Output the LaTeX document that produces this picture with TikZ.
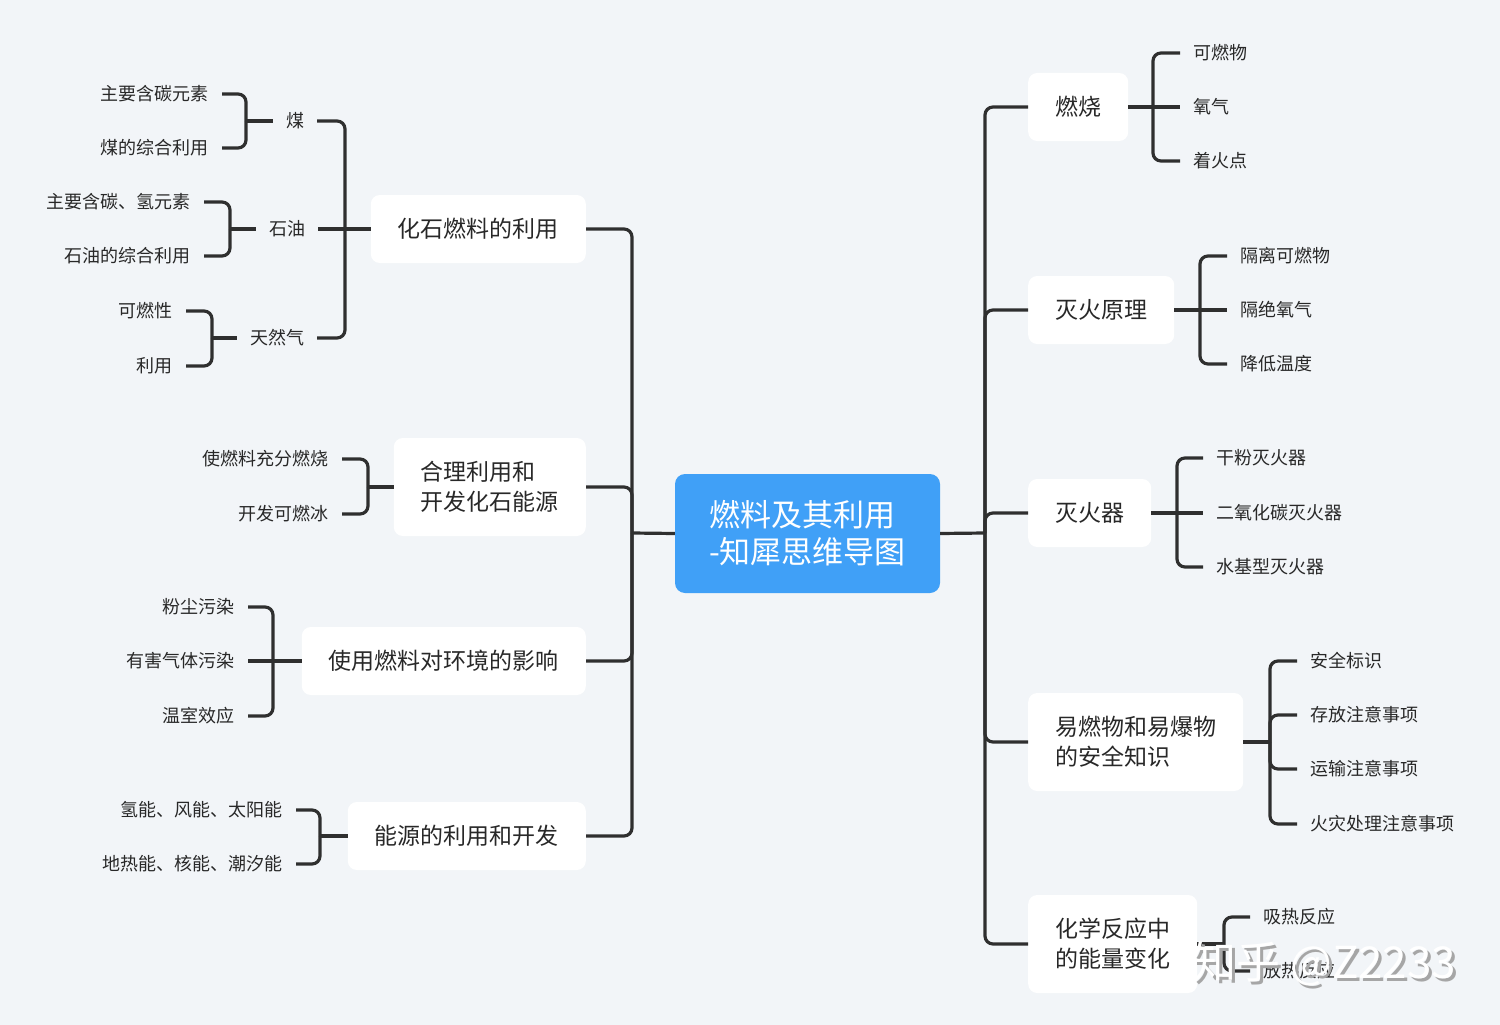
\documentclass[tikz,border=0pt]{standalone}
\usepackage{fontspec}
\setmainfont{Noto Sans CJK SC}
\definecolor{bg}{RGB}{242,245,248}
\definecolor{ln}{RGB}{47,47,47}
\definecolor{txt}{RGB}{40,40,40}
\definecolor{cblue}{RGB}{64,160,247}
\tikzset{
  mainbox/.style={fill=white, rounded corners=9pt, font=\fontsize{23}{30}\selectfont, text=txt, inner xsep=27pt, minimum height=68pt, align=left},
  twoline/.style={minimum height=98pt},
  leaf/.style={font=\fontsize{18}{22}\selectfont, text=txt, inner xsep=13pt, inner ysep=2pt},
  conn/.style={draw=ln, line width=3.2pt, rounded corners=8pt},
}
\begin{document}
\begin{tikzpicture}[x=1pt,y=-1pt]
\useasboundingbox (0,0) rectangle (1500,1025);
\fill[bg] (0,0) rectangle (1500,1025);

% center
\node[fill=cblue, rounded corners=10pt, minimum width=265pt, minimum height=119pt, text=white, font=\fontsize{31}{37}\selectfont, align=left] (C) at (807.5,533.5) {燃料及其利用\\-知犀思维导图};

% left main nodes
\node[mainbox, anchor=east] (L1) at (586,229) {化石燃料的利用};
\node[mainbox, twoline, anchor=east] (L2) at (586,487) {合理利用和\\开发化石能源};
\node[mainbox, anchor=east] (L3) at (586,661) {使用燃料对环境的影响};
\node[mainbox, anchor=east] (L4) at (586,836) {能源的利用和开发};

% right main nodes
\node[mainbox, anchor=west] (R1) at (1028,107) {燃烧};
\node[mainbox, anchor=west] (R2) at (1028,310) {灭火原理};
\node[mainbox, anchor=west] (R3) at (1028,513) {灭火器};
\node[mainbox, twoline, anchor=west] (R4) at (1028,742) {易燃物和易爆物\\的安全知识};
\node[mainbox, twoline, anchor=west] (R5) at (1028,944) {化学反应中\\的能量变化};

% center connectors
\coordinate (LB) at (632,533);
\coordinate (RB) at (985,533);
\draw[conn] (C.west) -- (LB);
\draw[conn] (C.east) -- (RB);
\draw[conn] (LB) -- (632,229) -- (L1.east);
\draw[conn] (LB) -- (632,487) -- (L2.east);
\draw[conn] (LB) -- (632,661) -- (L3.east);
\draw[conn] (LB) -- (632,836) -- (L4.east);
\draw[conn] (RB) -- (985,107) -- (R1.west);
\draw[conn] (RB) -- (985,310) -- (R2.west);
\draw[conn] (RB) -- (985,513) -- (R3.west);
\draw[conn] (RB) -- (985,742) -- (R4.west);
\draw[conn] (RB) -- (985,944) -- (R5.west);

% ---- L1 subtree
\node[leaf] (M) at (295,121) {煤};
\node[leaf] (S) at (287,229) {石油};
\node[leaf] (T) at (277,338) {天然气};
\coordinate (L1b) at (345,229);
\draw[conn] (L1.west) -- (L1b);
\draw[conn] (L1b) -- (345,121) -- (M.east);
\draw[conn] (L1b) -- (S.east);
\draw[conn] (L1b) -- (345,338) -- (T.east);

\node[leaf, anchor=east] (M1) at (222,94) {主要含碳元素};
\node[leaf, anchor=east] (M2) at (222,148) {煤的综合利用};
\coordinate (Mb) at (246,121);
\draw[conn] (M.west) -- (Mb);
\draw[conn] (Mb) -- (246,94) -- (M1.east);
\draw[conn] (Mb) -- (246,148) -- (M2.east);

\node[leaf, anchor=east] (S1) at (204,202) {主要含碳、氢元素};
\node[leaf, anchor=east] (S2) at (204,256) {石油的综合利用};
\coordinate (Sb) at (230,229);
\draw[conn] (S.west) -- (Sb);
\draw[conn] (Sb) -- (230,202) -- (S1.east);
\draw[conn] (Sb) -- (230,256) -- (S2.east);

\node[leaf, anchor=east] (T1) at (186,311) {可燃性};
\node[leaf, anchor=east] (T2) at (186,366) {利用};
\coordinate (Tb) at (212,338);
\draw[conn] (T.west) -- (Tb);
\draw[conn] (Tb) -- (212,311) -- (T1.east);
\draw[conn] (Tb) -- (212,366) -- (T2.east);

% ---- L2
\node[leaf, anchor=east] (A1) at (342,459) {使燃料充分燃烧};
\node[leaf, anchor=east] (A2) at (342,514) {开发可燃冰};
\coordinate (Ab) at (368,487);
\draw[conn] (L2.west) -- (Ab);
\draw[conn] (Ab) -- (368,459) -- (A1.east);
\draw[conn] (Ab) -- (368,514) -- (A2.east);

% ---- L3
\node[leaf, anchor=east] (B1) at (248,607) {粉尘污染};
\node[leaf, anchor=east] (B2) at (248,661) {有害气体污染};
\node[leaf, anchor=east] (B3) at (248,716) {温室效应};
\coordinate (Bb) at (273,661);
\draw[conn] (L3.west) -- (Bb);
\draw[conn] (Bb) -- (273,607) -- (B1.east);
\draw[conn] (Bb) -- (B2.east);
\draw[conn] (Bb) -- (273,716) -- (B3.east);

% ---- L4
\node[leaf, anchor=east] (D1) at (296,810) {氢能、风能、太阳能};
\node[leaf, anchor=east] (D2) at (296,864) {地热能、核能、潮汐能};
\coordinate (Db) at (320,836);
\draw[conn] (L4.west) -- (Db);
\draw[conn] (Db) -- (320,810) -- (D1.east);
\draw[conn] (Db) -- (320,864) -- (D2.east);

% ---- R1
\node[leaf, anchor=west] (E1) at (1180,53) {可燃物};
\node[leaf, anchor=west] (E2) at (1180,107) {氧气};
\node[leaf, anchor=west] (E3) at (1180,161) {着火点};
\coordinate (Eb) at (1153,107);
\draw[conn] (R1.east) -- (Eb);
\draw[conn] (Eb) -- (1153,53) -- (E1.west);
\draw[conn] (Eb) -- (E2.west);
\draw[conn] (Eb) -- (1153,161) -- (E3.west);

% ---- R2
\node[leaf, anchor=west] (F1) at (1227,256) {隔离可燃物};
\node[leaf, anchor=west] (F2) at (1227,310) {隔绝氧气};
\node[leaf, anchor=west] (F3) at (1227,364) {降低温度};
\coordinate (Fb) at (1200,310);
\draw[conn] (R2.east) -- (Fb);
\draw[conn] (Fb) -- (1200,256) -- (F1.west);
\draw[conn] (Fb) -- (F2.west);
\draw[conn] (Fb) -- (1200,364) -- (F3.west);

% ---- R3
\node[leaf, anchor=west] (G1) at (1203,458) {干粉灭火器};
\node[leaf, anchor=west] (G2) at (1203,513) {二氧化碳灭火器};
\node[leaf, anchor=west] (G3) at (1203,567) {水基型灭火器};
\coordinate (Gb) at (1177,513);
\draw[conn] (R3.east) -- (Gb);
\draw[conn] (Gb) -- (1177,458) -- (G1.west);
\draw[conn] (Gb) -- (G2.west);
\draw[conn] (Gb) -- (1177,567) -- (G3.west);

% ---- R4
\node[leaf, anchor=west] (H1) at (1297,661) {安全标识};
\node[leaf, anchor=west] (H2) at (1297,715) {存放注意事项};
\node[leaf, anchor=west] (H3) at (1297,769) {运输注意事项};
\node[leaf, anchor=west] (H4) at (1297,824) {火灾处理注意事项};
\coordinate (Hb) at (1270,742);
\draw[conn] (R4.east) -- (Hb);
\draw[conn] (Hb) -- (1270,661) -- (H1.west);
\draw[conn] (Hb) -- (1270,715) -- (H2.west);
\draw[conn] (Hb) -- (1270,769) -- (H3.west);
\draw[conn] (Hb) -- (1270,824) -- (H4.west);

% ---- R5
\node[leaf, anchor=west] (K1) at (1250,917) {吸热反应};
\node[leaf, anchor=west] (K2) at (1250,971) {放热反应};
\coordinate (Kb) at (1224,944);
\draw[conn] (R5.east) -- (Kb);
\draw[conn] (Kb) -- (1224,917) -- (K1.west);
\draw[conn] (Kb) -- (1224,971) -- (K2.west);

% watermark
\node[font=\fontsize{44}{50}\selectfont, text=black!35, anchor=west] (wm0) at (1192,967) {知乎 @Z2233};
\node[font=\fontsize{44}{50}\selectfont, text=white, anchor=west] (wm) at (1189,964) {知乎 @Z2233};
\end{tikzpicture}
\end{document}
